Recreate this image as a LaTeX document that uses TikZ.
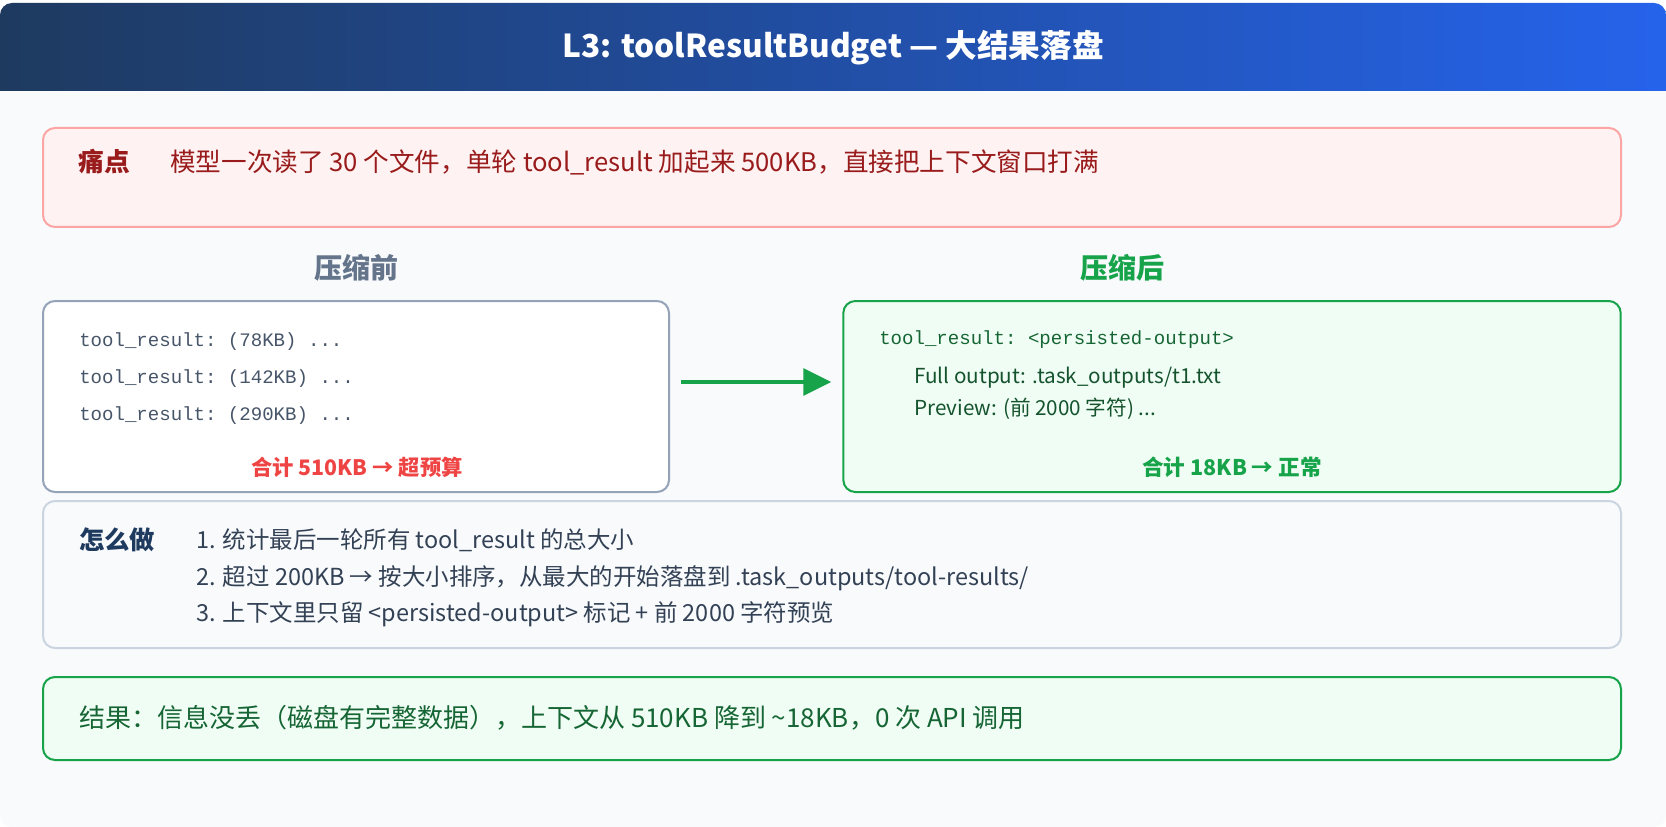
\documentclass[tikz,border=0pt]{standalone}
\usepackage{fontspec}
\setmainfont{Noto Sans CJK SC}
\setmonofont{Liberation Mono}
\usetikzlibrary{arrows.meta,positioning}

\definecolor{HeadDark}{HTML}{1E3A5F}
\definecolor{HeadBlue}{HTML}{2563EB}
\definecolor{PageBg}{HTML}{F8FAFC}
\definecolor{PainFill}{HTML}{FEF2F2}
\definecolor{PainLine}{HTML}{FCA5A5}
\definecolor{PainText}{HTML}{991B1B}
\definecolor{SlateText}{HTML}{64748B}
\definecolor{SlateLine}{HTML}{94A3B8}
\definecolor{MonoGray}{HTML}{475569}
\definecolor{AlertRed}{HTML}{EF4444}
\definecolor{OkGreen}{HTML}{16A34A}
\definecolor{OkFill}{HTML}{F0FDF4}
\definecolor{OkText}{HTML}{166534}
\definecolor{OkDark}{HTML}{14532D}
\definecolor{HowLine}{HTML}{CBD5E1}
\definecolor{HowText}{HTML}{334155}

\newcommand{\fsz}[1]{\fontsize{#1pt}{#1pt}\selectfont}

\begin{document}
\begin{tikzpicture}[x=0.75pt, y=-0.75pt,
    panel/.style={draw, rounded corners=9pt, line width=1.5pt},
    txt/.style={inner sep=0pt, anchor=west},
    mono/.style={txt, font=\ttfamily\fsz{14.3}},
    flow/.style={-{Triangle[length=21pt,width=20pt]}, line width=3pt, OkGreen}]
    % Canvas
    \useasboundingbox (0,0) rectangle (1666,827);
    \fill[white] (0,0) rectangle (1666,827);
    \fill[PageBg, rounded corners=9pt] (0,3) rectangle (1666,827);

    % Header
    \shade[left color=HeadDark, right color=HeadBlue]
      (0,91) [rounded corners=9pt] -- (0,3) -- (1666,3) [sharp corners] -- (1666,91) -- cycle;
    \node[text=white, font=\fsz{23.7}\bfseries] (title) at (833,48) {L3: toolResultBudget — 大结果落盘};

    % Pain point
    \node[panel, draw=PainLine, fill=PainFill, minimum width=1183.5pt, minimum height=74.25pt] (pain) at (832,177.5) {};
    \node[txt, text=PainText, font=\fsz{19.3}\bfseries] (painlabel) at (78,162) {痛点};
    \node[txt, text=PainText, font=\fsz{19.2}] (paintext) at (170,162)
      {模型一次读了 30 个文件，单轮 tool\_result 加起来 500KB，直接把上下文窗口打满};

    % Before / after
    \node[text=SlateText, font=\fsz{21}\bfseries] (beforehead) at (356,268) {压缩前};
    \node[text=OkGreen, font=\fsz{21}\bfseries] (afterhead) at (1122,268) {压缩后};

    \node[panel, draw=SlateLine, fill=white, minimum width=469.5pt, minimum height=143.25pt] (before) at (356,396.5) {};
    \node[panel, draw=OkGreen, fill=OkFill, minimum width=583pt, minimum height=143.25pt] (after) at (1232,396.5) {};

    \foreach \y/\kb in {342/78, 379/142, 416/290} {
      \node[mono, text=MonoGray] (raw\kb) at (79,\y) {tool\_result: (\kb KB) ...};
    }
    \node[text=AlertRed, font=\fsz{16}\bfseries] (beforetotal) at (357,467) {合计 510KB → 超预算};

    \node[mono, text=OkText] (persisted) at (879,340) {tool\_result: <persisted-output>};
    \node[txt, text=OkDark, font=\fsz{15.5}] (fullout) at (914,378) {Full output: .task\_outputs/t1.txt};
    \node[txt, text=OkDark, font=\fsz{15.5}] (preview) at (914,409) {Preview: (前 2000 字符) ...};
    \node[text=OkGreen, font=\fsz{16.2}\bfseries] (aftertotal) at (1232,467) {合计 18KB → 正常};

    \draw[flow] ([xshift=8.25pt,yshift=10.9pt]before.east) -- ([xshift=-8.25pt,yshift=10.9pt]after.west);

    % How
    \node[panel, draw=HowLine, fill=PageBg, minimum width=1183.5pt, minimum height=110.25pt] (how) at (832,574.5) {};
    \node[txt, text=HeadDark, font=\fsz{19}\bfseries] (howlabel) at (79,540) {怎么做};
    \foreach \y/\step [count=\i] in {540/{1. 统计最后一轮所有 tool\_result 的总大小},
        578/{2. 超过 200KB → 按大小排序，从最大的开始落盘到 .task\_outputs/tool-results/},
        614/{3. 上下文里只留 <persisted-output> 标记 + 前 2000 字符预览}} {
      \node[txt, text=HowText, font=\fsz{17.6}] (step\i) at (196,\y) {\step};
    }

    % Result
    \node[panel, draw=OkGreen, fill=OkFill, minimum width=1183.5pt, minimum height=62.25pt] (result) at (832,718.5) {};
    \node[txt, text=OkText, font=\fsz{19.5}] (resulttext) at (79,718)
      {结果：信息没丢（磁盘有完整数据），上下文从 510KB 降到 \textasciitilde18KB，0 次 API 调用};
\end{tikzpicture}
\end{document}
